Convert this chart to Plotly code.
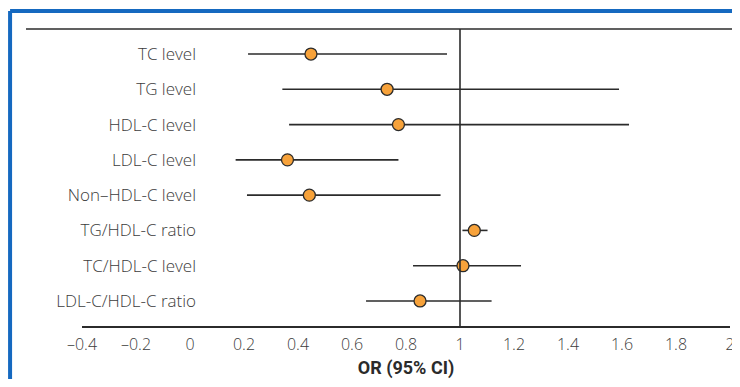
import plotly.graph_objects as go

labels = ["TC level", "TG level", "HDL-C level", "LDL-C level", "Non–HDL-C level",
          "TG/HDL-C ratio", "TC/HDL-C level", "LDL-C/HDL-C ratio"]
or_values = [0.448, 0.730, 0.772, 0.361, 0.442, 1.053, 1.011, 0.852]
ci_low = [0.215, 0.342, 0.367, 0.169, 0.211, 1.009, 0.826, 0.652]
ci_high = [0.952, 1.589, 1.626, 0.772, 0.928, 1.102, 1.226, 1.117]
tick_vals = [-0.4, -0.2, 0, 0.2, 0.4, 0.6, 0.8, 1, 1.2, 1.4, 1.6, 1.8, 2]
tick_text = ["–0.4", "–0.2", "0", "0.2", "0.4", "0.6", "0.8", "1", "1.2", "1.4", "1.6", "1.8", "2"]
x_title = "OR (95% CI)"
ref_value = 1

fig = go.Figure()

# CI lines
for lab, lo, hi in zip(labels, ci_low, ci_high):
    fig.add_trace(go.Scatter(x=[lo, hi], y=[lab, lab], mode="lines",
                             line=dict(color="#2b2b2b", width=1.6),
                             showlegend=False, hoverinfo="skip"))

fig.add_trace(go.Scatter(x=or_values, y=labels, mode="markers",
                         marker=dict(size=12, color="#F7A23A",
                                     line=dict(color="#2b2b2b", width=1.3)),
                         showlegend=False))

fig.add_shape(type="line", xref="x", yref="paper", x0=ref_value, x1=ref_value,
              y0=0, y1=1, line=dict(color="#2b2b2b", width=1.6))
# top rule
fig.add_shape(type="line", xref="paper", yref="paper", x0=-0.0864, x1=1.009,
              y0=1, y1=1, line=dict(color="#2b2b2b", width=1.6))
# blue frame (left and top edges visible)
fig.add_shape(type="line", xref="paper", yref="paper", x0=-0.111, x1=-0.111,
              y0=-0.4, y1=1.0606, line=dict(color="#1569C0", width=4))
fig.add_shape(type="line", xref="paper", yref="paper", x0=-0.111, x1=1.2,
              y0=1.0606, y1=1.0606, line=dict(color="#1569C0", width=4))

font_main = "'Open Sans', Lato, sans-serif"

fig.update_layout(
    width=732, height=371,
    margin=dict(l=74, r=10, t=21, b=53, autoexpand=False),
    paper_bgcolor="white", plot_bgcolor="white",
    font=dict(family=font_main, color="#3a3a3a", size=16),
    xaxis=dict(range=[-0.4, 2], tickvals=tick_vals, ticktext=tick_text,
               showgrid=False, zeroline=False, showline=True, automargin=False,
               linecolor="#2b2b2b", linewidth=1.6, ticks="",
               tickfont=dict(size=16, color="#3c3c3c", weight=300),
               ticklabelstandoff=3,
               title=dict(text="<b>" + x_title + "</b>", standoff=17,
                          font=dict(family="'Liberation Sans Narrow', Roboto, sans-serif",
                                    size=18, color="#2b2b2b"))),
    yaxis=dict(type="category", categoryarray=labels, range=[7.71, -0.71],
               anchor="free", position=0.176, showgrid=False, zeroline=False,
               showline=False, ticks="", automargin=False,
               tickfont=dict(size=17, color="#3c3c3c", weight=300)),
)

fig.write_html("out.html")
